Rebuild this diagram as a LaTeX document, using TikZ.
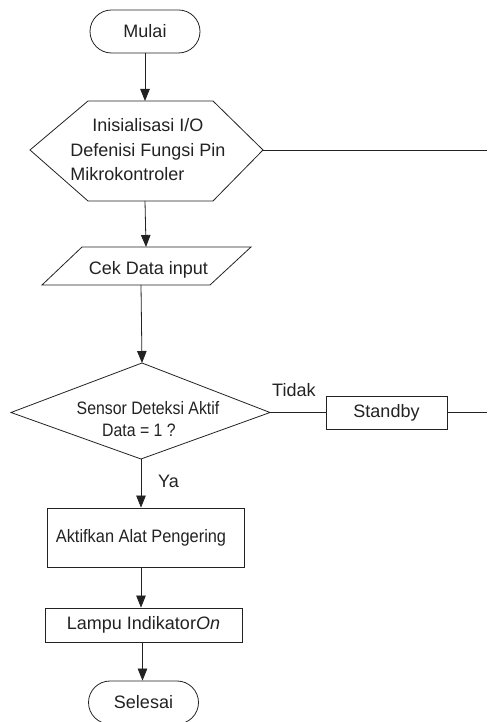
\documentclass[tikz,border=0pt]{standalone}
\usepackage{fontspec}
\usepackage{graphicx}
\setmainfont{Liberation Sans}
\usetikzlibrary{shapes.misc,arrows.meta}
\definecolor{ink}{HTML}{222222}
\begin{document}
\begin{tikzpicture}[x=1pt,y=1pt,
  every node/.style={font=\fontsize{18}{24.5}\selectfont, text=ink},
  ln/.style={draw=ink, line width=0.8pt},
  arr/.style={ln, -{Triangle[length=12pt,width=9.5pt]}},
  term/.style={ln, rounded rectangle, minimum width=110pt, minimum height=43pt, inner sep=0pt},
  boxn/.style={ln, rectangle, inner sep=0pt},
  lbl/.style={inner sep=0pt, anchor=base west},
]
\useasboundingbox (0,0) rectangle (487,722);

% Start
\node[term] (mulai) at (145,690.5) {Mulai};

% Hexagon (preparation)
\coordinate (hexN) at (145,621);
\coordinate (hexS) at (145,521);
\coordinate (hexE) at (263,572);
\coordinate (endA) at (487,572);
\draw[ln] (88,621) -- (213,621) -- (hexE) -- (213,521) -- (88,521) -- (30,572) -- cycle;
\node[align=left, inner sep=0pt] (hex) at (148,572)
  {\hspace*{22pt}Inisialisasi I/O\\Defenisi Fungsi Pin\\Mikrokontroler};

% Parallelogram (input)
\coordinate (paraN) at (146,475);
\coordinate (paraS) at (141,437);
\draw[ln] (82,475) -- (251,475) -- (210,437) -- (42,437) -- cycle;
\node[inner sep=0pt] (para) at (148.5,452.5) {Cek Data input};

% Decision
\coordinate (diaN) at (142,359);
\coordinate (diaW) at (11,309.5);
\coordinate (diaE) at (270,309.5);
\coordinate (diaS) at (141,263);
\draw[ln] (diaN) -- (diaE) -- (diaS) -- (diaW) -- cycle;
\node[align=center, inner sep=0pt, font=\fontsize{18}{22}\selectfont] (dia) at (148,302.5)
  {\scalebox{0.88}[1]{Sensor Deteksi Aktif}\\\scalebox{0.88}[1]{Data = 1 ?}\hspace*{18pt}};

% Standby
\node[boxn, minimum width=121pt, minimum height=33pt] (standby) at (386.5,309.5) {Standby};
\coordinate (endB) at (487,309.5);

% Process boxes
\node[boxn, minimum width=197pt, minimum height=59pt] (aktif) at (145.5,184.5)
  {\raisebox{-4pt}{\scalebox{0.91}[1]{Aktifkan Alat Pengering}}\hspace*{9pt}};
\node[boxn, minimum width=197pt, minimum height=34pt] (lampu) at (143.5,97)
  {Lampu Indikator\textit{On}};

% End
\node[term] (selesai) at (143.5,19.5) {Selesai};

% Labels
\node[lbl] (tidak) at (272,325) {Tidak};
\node[lbl] (ya) at (158,234) {Ya};

% Connectors
\draw[arr] (mulai.south -| hexN) -- (hexN);
\draw[arr] (hexS) -- (paraN);
\draw[arr] (paraS) -- (diaN);
\draw[ln] (hexE) -- (endA);
\draw[ln] (diaE) -- (diaE -| standby.west);
\draw[ln] (standby.east) -- (endB);
\draw[arr] (diaS) -- (diaS |- aktif.north);
\draw[arr] ([xshift=-4.5pt]aktif.south) -- ([xshift=-4.5pt]aktif.south |- lampu.north);
\draw[arr] ([xshift=-1pt]lampu.south) -- ([xshift=-1pt]lampu.south |- selesai.north);
\end{tikzpicture}
\end{document}
